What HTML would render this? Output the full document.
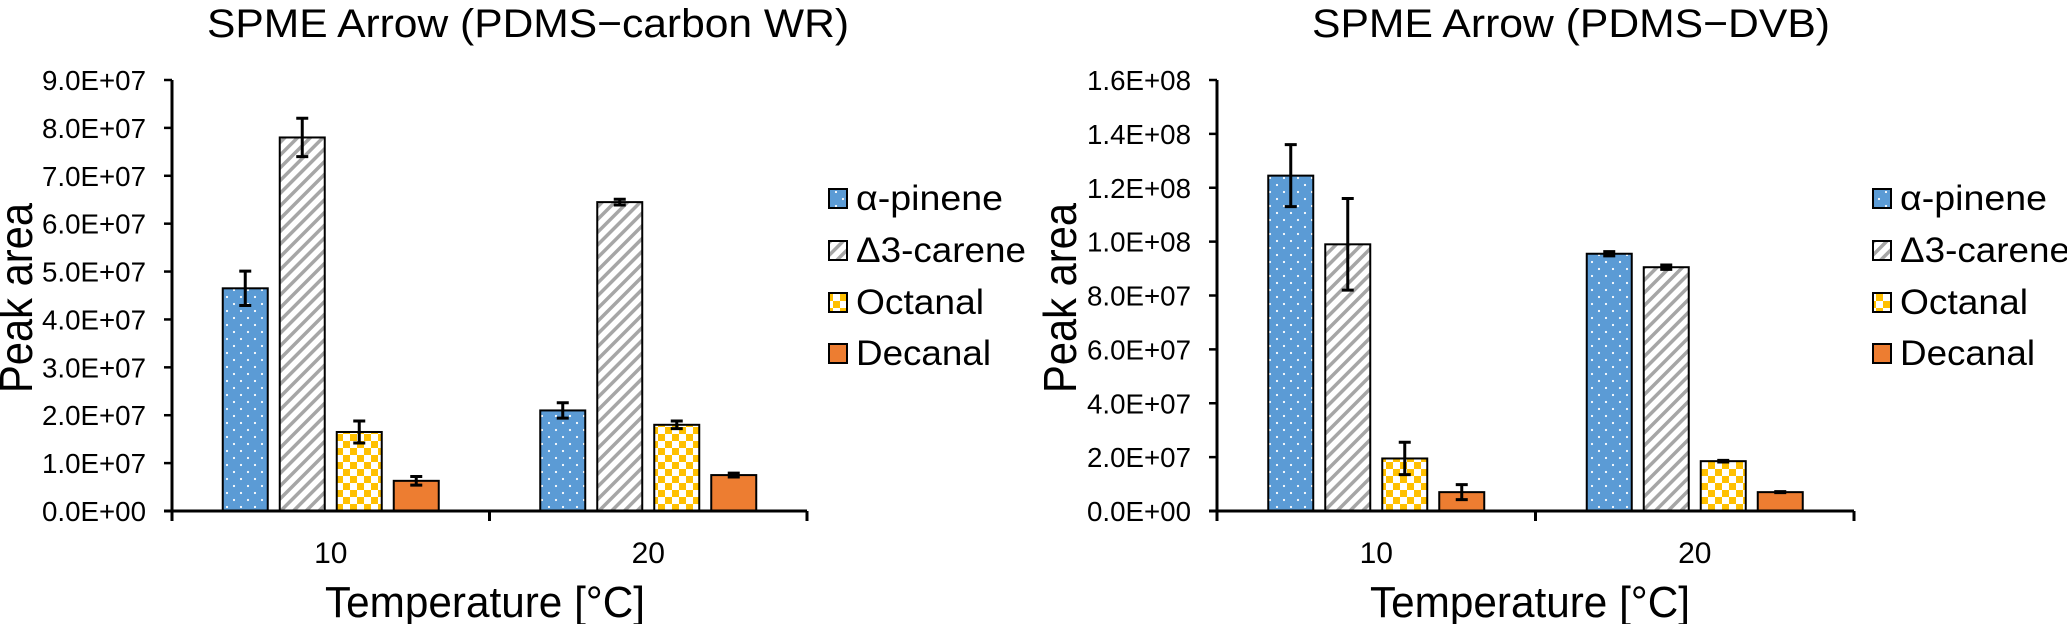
<!DOCTYPE html>
<html><head><meta charset="utf-8">
<style>
html,body{margin:0;padding:0;background:#fff;}
svg{display:block;font-family:"Liberation Sans",Arial,sans-serif;}
</style></head>
<body>
<svg id="chart" width="2067" height="624" viewBox="0 0 2067 624" xmlns="http://www.w3.org/2000/svg">
<defs>
<pattern id="pDots" patternUnits="userSpaceOnUse" width="14" height="14">
<rect width="14" height="14" fill="#5b9bd5"/>
<circle cx="3" cy="3" r="1.1" fill="#fff"/><circle cx="10" cy="10" r="1.1" fill="#fff"/>
</pattern>
<pattern id="pStripe" patternUnits="userSpaceOnUse" width="9" height="9" patternTransform="rotate(45)">
<rect width="9" height="9" fill="#fff"/><rect width="3.5" height="9" fill="#a6a6a6"/>
</pattern>
<pattern id="pCheck" patternUnits="userSpaceOnUse" width="14" height="14">
<rect width="14" height="14" fill="#fff"/><rect width="7" height="7" fill="#ffc000"/><rect x="7" y="7" width="7" height="7" fill="#ffc000"/>
</pattern>
</defs>
</svg>
<script>
const categories = ["10", "20"];
const seriesNames = ["α-pinene", "Δ3-carene", "Octanal", "Decanal"];
// left chart (PDMS-carbon WR)
const leftValues = [[46.5e6, 21e6], [78e6, 64.5e6], [16.5e6, 18e6], [6.3e6, 7.5e6]];
const leftErrors = [[3.6e6, 1.6e6], [4e6, 0.6e6], [2.3e6, 0.8e6], [0.9e6, 0.4e6]];
const leftTicks = ["0.0E+00","1.0E+07","2.0E+07","3.0E+07","4.0E+07","5.0E+07","6.0E+07","7.0E+07","8.0E+07","9.0E+07"];
const leftTickValues = [0,1e7,2e7,3e7,4e7,5e7,6e7,7e7,8e7,9e7];
// right chart (PDMS-DVB)
const rightValues = [[124.5e6, 95.5e6], [99e6, 90.5e6], [19.5e6, 18.5e6], [7e6, 7e6]];
const rightErrors = [[11.5e6, 0.8e6], [17e6, 0.8e6], [6e6, 0.3e6], [2.8e6, 0.2e6]];
const rightTicks = ["0.0E+00","2.0E+07","4.0E+07","6.0E+07","8.0E+07","1.0E+08","1.2E+08","1.4E+08","1.6E+08"];
const rightTickValues = [0,2e7,4e7,6e7,8e7,10e7,12e7,14e7,16e7];

const NS = "http://www.w3.org/2000/svg";
const svg = document.getElementById("chart");
const fills = ["url(#pDots)", "url(#pStripe)", "url(#pCheck)", "#ed7d31"];
function mk(tag, attrs, parent) {
  const e = document.createElementNS(NS, tag);
  for (const k in attrs) e.setAttribute(k, attrs[k]);
  (parent || svg).appendChild(e);
  return e;
}
function drawChart(cfg) {
  const g = mk("g", {});
  
  
  const yScale = v => cfg.y0 - (v / cfg.max) * (cfg.y0 - cfg.yTop);
  const catW = (cfg.x1 - cfg.x0) / categories.length;
  const xCenter = i => cfg.x0 + catW * (i + 0.5);
  const barW = 45, gap = 12;
  const t = mk("text", {x: cfg.titleX, y: 37, "font-size": 40, "text-anchor": "middle", textLength: cfg.titleW, lengthAdjust: "spacingAndGlyphs"}, g);
  t.textContent = cfg.title;
  
  
  cfg.tickValues.forEach((v, i) => {
    const y = yScale(v);
    const tk = mk("line", {x1: cfg.x0 - 8, x2: cfg.x0, y1: y, y2: y, stroke: "#000", "stroke-width": 2.5}, g);
    
    
    const lb = mk("text", {x: cfg.x0 - 26, y: y + 10, "font-size": 28, "text-anchor": "end", textLength: 104, lengthAdjust: "spacingAndGlyphs"}, g);
    lb.textContent = cfg.ticks[i];
    
    
  });
  seriesNames.forEach((s, si) => {
    categories.forEach((c, ci) => {
      const bx = xCenter(ci) - (4 * barW + 3 * gap) / 2 + si * (barW + gap);
      const v = cfg.values[si][ci], e = cfg.errors[si][ci];
      const yv = yScale(v);
      const r = mk("rect", {x: bx, y: yv, width: barW, height: cfg.y0 - yv, fill: fills[si], stroke: "#000", "stroke-width": 2}, g);
      
      
      const cx = bx + barW / 2, yt = yScale(v + e), yb = yScale(v - e);
      const eb = mk("path", {d: `M${cx},${yt}V${yb}M${cx-6},${yt}H${cx+6}M${cx-6},${yb}H${cx+6}`, stroke: "#000", "stroke-width": 3, fill: "none"}, g);
      
      
    });
  });
  const ya = mk("line", {x1: cfg.x0, x2: cfg.x0, y1: cfg.yTop, y2: cfg.y0 + 10, stroke: "#000", "stroke-width": 3}, g);
  
  
  const xa = mk("line", {x1: cfg.x0 - 8, x2: cfg.x1, y1: cfg.y0, y2: cfg.y0, stroke: "#000", "stroke-width": 3}, g);
  
  
  for (let i = 1; i <= categories.length; i++) {
    const x = cfg.x0 + catW * i;
    const ct = mk("line", {x1: x, x2: x, y1: cfg.y0, y2: cfg.y0 + 10, stroke: "#000", "stroke-width": 3}, g);
    
    
  }
  categories.forEach((c, ci) => {
    const xl = mk("text", {x: xCenter(ci), y: 563, "font-size": 30, "text-anchor": "middle"}, g);
    xl.textContent = c;
    
    
  });
  const xt = mk("text", {x: cfg.xTitleX, y: 617, "font-size": 44, "text-anchor": "middle", textLength: 320, lengthAdjust: "spacingAndGlyphs"}, g);
  xt.textContent = "Temperature [°C]";
  
  
  const yt = mk("text", {x: 0, y: 0, "font-size": 46, "text-anchor": "middle", textLength: 190, lengthAdjust: "spacingAndGlyphs", transform: `translate(${cfg.yTitleX},298) rotate(-90)`}, g);
  yt.textContent = "Peak area";
  
  
  const rows = [198, 250, 302, 353], widths = [147, 170, 128, 135];
  seriesNames.forEach((s, si) => {
    const lg = mk("g", {}, g);
    
    
    mk("rect", {x: cfg.legX, y: rows[si] - 9, width: 18, height: 19, fill: fills[si], stroke: "#000", "stroke-width": 2}, lg);
    const lt = mk("text", {x: cfg.legX + 27, y: rows[si] + 12, "font-size": 35, textLength: widths[si], lengthAdjust: "spacingAndGlyphs"}, lg);
    lt.textContent = s;
  });
}
drawChart({name: "chart-pdms-carbon-wr", title: "SPME Arrow (PDMS−carbon WR)", titleX: 528, titleW: 642,
  x0: 172, x1: 807, yTop: 80, y0: 511, max: 9e7, ticks: leftTicks, tickValues: leftTickValues,
  values: leftValues, errors: leftErrors, xTitleX: 485, yTitleX: 32, legX: 829});
drawChart({name: "chart-pdms-dvb", title: "SPME Arrow (PDMS−DVB)", titleX: 1571, titleW: 518,
  x0: 1217, x1: 1854, yTop: 80, y0: 511, max: 16e7, ticks: rightTicks, tickValues: rightTickValues,
  values: rightValues, errors: rightErrors, xTitleX: 1530, yTitleX: 1076, legX: 1873});
</script>
</body></html>
